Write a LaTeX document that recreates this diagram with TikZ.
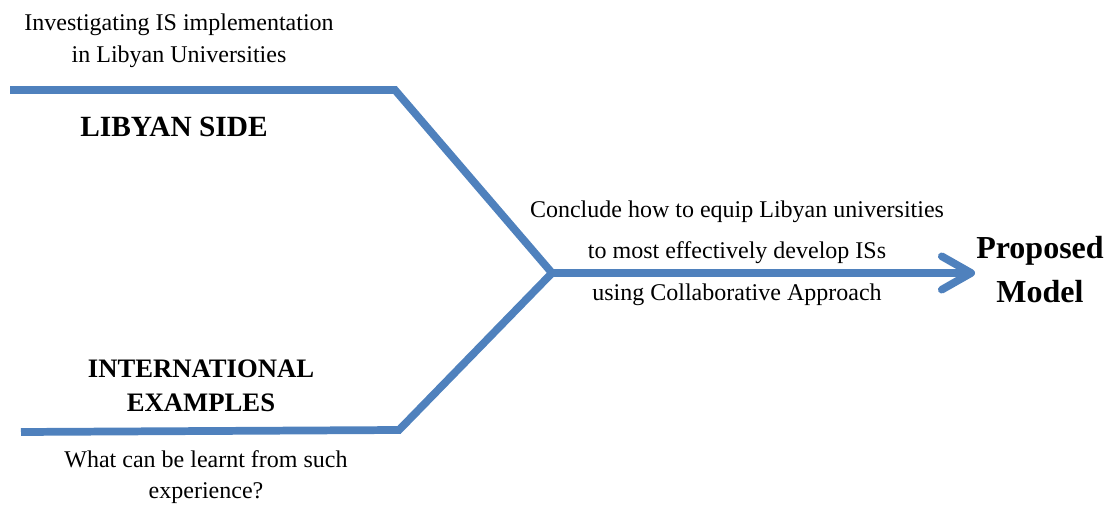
\documentclass[tikz,border=0pt]{standalone}
\usepackage{fontspec}
\setmainfont{Liberation Serif}
\usetikzlibrary{arrows.meta}
\definecolor{flowblue}{RGB}{79,129,189}
\begin{document}
\begin{tikzpicture}[x=0.75pt,y=-0.75pt,
  flow/.style={draw=flowblue,line width=5.8pt,line join=miter},
  plain/.style={inner sep=0pt,anchor=base,align=center,font=\fontsize{18}{24}\selectfont},
  heading/.style={inner sep=0pt,anchor=base,align=center,font=\bfseries\fontsize{20}{25.5}\selectfont}]
\useasboundingbox (0,0) rectangle (1110,506);

% junction points of the two incoming branches
\coordinate (topstart) at (10,90);
\coordinate (topbend) at (395,90);
\coordinate (botstart) at (21,432);
\coordinate (botbend) at (399,430);
\coordinate (join) at (552,273);
\coordinate (tip) at (975,273);

\draw[flow] (topstart) -- (topbend) -- (join);
\draw[flow] (botstart) -- (botbend) -- (join);
\draw[flow,-{Straight Barb[length=22pt,width=25pt,round]}] (join) -- (tip);

% texts (placed at the baseline of their last line)
\node[plain] (inv) at (179,63) {Investigating IS implementation\\in Libyan Universities};
\node[heading,font=\bfseries\fontsize{22}{26}\selectfont] (lib) at (174,137) {LIBYAN SIDE};
\node[plain,font=\fontsize{18}{31}\selectfont] (concl) at (737,300) {Conclude how to equip Libyan universities\\to most effectively develop ISs\\using Collaborative Approach};
\node[heading,font=\bfseries\fontsize{24}{33}\selectfont] (model) at (1040,302) {Proposed\\Model};
\node[heading] (intl) at (201,411) {INTERNATIONAL\\EXAMPLES};
\node[plain,font=\fontsize{18}{23}\selectfont] (learn) at (206,498) {What can be learnt from such\\experience?};
\end{tikzpicture}
\end{document}
